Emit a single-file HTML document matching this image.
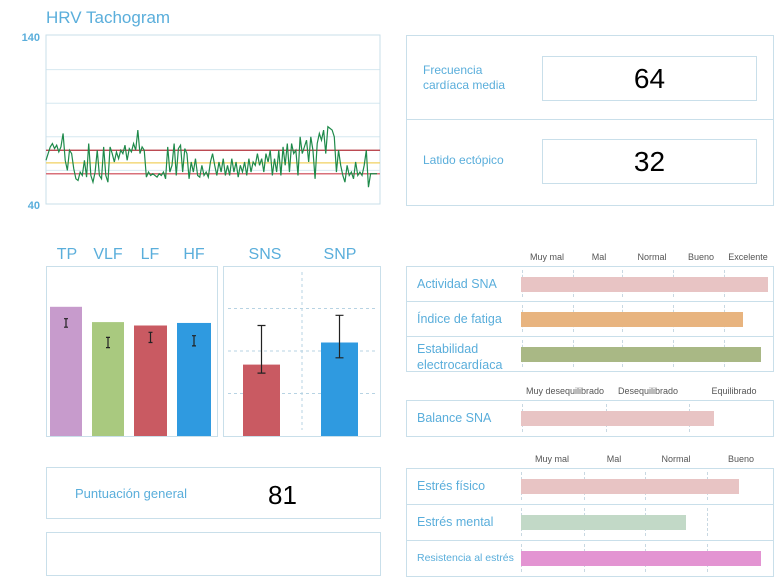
<!DOCTYPE html>
<html><head><meta charset="utf-8">
<style>
body{margin:0;width:784px;height:580px;background:#fff;font-family:"Liberation Sans",Arial,sans-serif;position:relative;overflow:hidden}
.a{position:absolute}
.box{position:absolute;border:1px solid #c9dfea;box-sizing:border-box}
.lbl{position:absolute;color:#5aaedb;font-size:12px}
.tk{position:absolute;color:#555;font-size:9px;text-align:center;width:100px}
</style></head><body>
<div class="lbl" style="left:46px;top:8px;font-size:17px">HRV Tachogram</div>
<svg class="a" style="left:0;top:0" width="400" height="215" id="tach"></svg>

<div class="box" style="left:406px;top:35px;width:368px;height:171px"></div>
<div class="a" style="left:406px;top:119px;width:368px;border-top:1px solid #c9dfea"></div>
<div class="lbl" style="left:423px;top:63px;line-height:15px">Frecuencia<br>cardíaca media</div>
<div class="box" style="left:542px;top:56px;width:215px;height:45px;font-size:28px;text-align:center;line-height:43px">64</div>
<div class="lbl" style="left:423px;top:153px">Latido ectópico</div>
<div class="box" style="left:542px;top:139px;width:215px;height:45px;font-size:28px;text-align:center;line-height:43px">32</div>

<svg class="a" style="left:0;top:240px" width="400" height="205" id="bars"></svg>

<div class="box" style="left:46px;top:467px;width:335px;height:52px"></div>
<div class="lbl" style="left:75px;top:486px;font-size:13px">Puntuación general</div>
<div class="a" style="left:268px;top:480px;font-size:26px">81</div>
<div class="box" style="left:46px;top:532px;width:335px;height:44px"></div>

<div id="rb"></div>
<script>
// ---- Tachogram data ----
const hrTicks=[140,40];
const hrGrid=[120,100,80,60];
const hrRefHigh=72, hrRefMid=64.5, hrRefLow=58;
const hrSeries=[66,70,74,76,73,75,71,74,82,66,60,72,70,61,55,54,59,57,66,56,76,57,53,59,72,57,55,74,57,53,74,70,65,71,67,72,70,75,66,73,71,76,72,84,70,74,72,56,59,57,58,57,56,58,57,59,55,74,59,63,76,57,73,75,59,73,70,55,65,59,67,57,56,63,57,59,56,65,70,63,57,65,59,67,57,63,57,67,59,65,56,63,59,65,57,67,59,65,63,70,63,67,59,70,65,72,57,67,59,72,57,74,63,76,59,76,70,72,57,80,70,74,78,65,80,72,55,76,82,78,84,70,86,85,84,80,59,72,63,57,53,63,57,59,55,65,57,59,57,63,72,50,58,58,58,58];
// ---- Spectrum bars ----
const specCats=['TP','VLF','LF','HF'];
const specVals=[76,67,65,66.5];
const specErrLo=[64,52,55,53];
const specErrHi=[69,58,61,59];
const anCats=['SNS','SNP'];
const anVals=[42,55];
const anErrLo=[37,46];
const anErrHi=[65,71];
// ---- Rating bars ----
const g1Cats=['Actividad SNA','Índice de fatiga','Estabilidad electrocardíaca'];
const g1Vals=[4.94,4.44,4.8];
const g1Ticks=['Muy mal','Mal','Normal','Bueno','Excelente'];
const g2Cats=['Balance SNA'];
const g2Vals=[2.31];
const g2Ticks=['Muy desequilibrado','Desequilibrado','Equilibrado'];
const g3Cats=['Estrés físico','Estrés mental','Resistencia al estrés'];
const g3Vals=[3.52,2.66,3.87];
const g3Ticks=['Muy mal','Mal','Normal','Bueno'];

const NS='http://www.w3.org/2000/svg';
function mk(p,t,a){const e=document.createElementNS(NS,t);for(const k in a)e.setAttribute(k,a[k]);p.appendChild(e);return e;}

// tachogram
(function(){
const s=document.getElementById('tach');
const x0=46,x1=380,yT=36,yB=204;
const y=v=>yT+(140-v)*(yB-yT)/100;
const x=i=>x0+i*(377-x0)/(hrSeries.length-1);
hrGrid.forEach(g=>{const l=mk(s,'line',{x1:x0,x2:x1,y1:y(g),y2:y(g),stroke:'#d6e8f0','stroke-width':1});

});
const r=mk(s,'rect',{x:x0,y:yT-1,width:x1-x0,height:yB-yT+1,fill:'none',stroke:'#c9dfea'});


[[hrRefHigh,'#b3303a'],[hrRefMid,'#f0d060'],[hrRefLow,'#d9707a']].forEach(([v,c])=>{const l=mk(s,'line',{x1:x0,x2:x1,y1:y(v),y2:y(v),stroke:c,'stroke-width':v===hrRefLow?1.6:1.2});

});
hrTicks.forEach(t=>{const e=mk(s,'text',{x:40,y:y(t)+5,'text-anchor':'end','font-size':11,'font-weight':'bold',fill:'#5aaedb','font-family':'Liberation Sans'});e.textContent=t;

});
const p=mk(s,'polyline',{points:hrSeries.map((v,i)=>x(i)+','+y(v)).join(' '),fill:'none',stroke:'#1e8a4a','stroke-width':1.2});


})();

// bars
(function(){
const s=document.getElementById('bars');
const oy=240,yB=436-oy,yT=266-oy;
const y=v=>yB-v*(yB-yT)/100;
let f=mk(s,'rect',{x:46.5,y:yT+.5,width:171,height:yB-yT,fill:'none',stroke:'#c9dfea'});


f=mk(s,'rect',{x:223.5,y:yT+.5,width:157,height:yB-yT,fill:'none',stroke:'#c9dfea'});


[25,50,75].forEach(g=>{const l=mk(s,'line',{x1:228,x2:375,y1:y(g),y2:y(g),stroke:'#b7d3e3','stroke-dasharray':'3,3'});

});
let v=mk(s,'line',{x1:302,x2:302,y1:yT+6,y2:yB-6,stroke:'#b7d3e3','stroke-dasharray':'3,3'});


const cols=['#c79bcc','#a9c97f','#c95a62','#2f9ae0'];
const sx=[50,92,134,177],sw=[32,32,33,34],cx=[67,108,150,194];
function err(xc,lo,hi,w){const e=mk(s,'path',{d:`M${xc},${y(lo)}V${y(hi)}M${xc-w},${y(lo)}h${2*w}M${xc-w},${y(hi)}h${2*w}`,stroke:'#222','stroke-width':1.2,fill:'none'});

}
function lab(t,xc){const e=mk(s,'text',{x:xc,y:19,'text-anchor':'middle','font-size':16,fill:'#5aaedb','font-family':'Liberation Sans'});e.textContent=t;

}
specCats.forEach((c,i)=>{const b=mk(s,'rect',{x:sx[i],y:y(specVals[i]),width:sw[i],height:yB-y(specVals[i]),fill:cols[i]});


err(sx[i]+sw[i]/2,specErrLo[i],specErrHi[i],2);lab(c,cx[i]);});
const ax=[243,321],ac=['#c95a62','#2f9ae0'],acx=[265,340];
anCats.forEach((c,i)=>{const b=mk(s,'rect',{x:ax[i],y:y(anVals[i]),width:37,height:yB-y(anVals[i]),fill:ac[i]});


err(ax[i]+18.5,anErrLo[i],anErrHi[i],4);lab(c,acx[i]);});
})();

// rating groups
(function(){
const root=document.getElementById('rb');
function group(cats,vals,ticks,top,rowH,labX,gridX,step,cols,name){
 const lblY=top-14;
 ticks.forEach((t,i)=>{const d=document.createElement('div');d.className='tk';d.textContent=t;
  d.style.left=(labX[i]-50)+'px';d.style.top=lblY+'px';
  
  
  root.appendChild(d);});
 const box=document.createElement('div');box.className='box';
 box.style.cssText=`left:406px;top:${top}px;width:368px;height:${rowH*cats.length+1}px`;
 
 
 root.appendChild(box);
 cats.forEach((c,i)=>{
  const ry=top+i*rowH;
  if(i>0){const ln=document.createElement('div');ln.className='a';ln.style.cssText=`left:406px;top:${ry}px;width:368px;border-top:1px solid #c9dfea`;
   
   
   root.appendChild(ln);}
  gridX.forEach(tx=>{const t=document.createElement('div');t.className='a';
   t.style.cssText=`left:${tx}px;top:${ry+4}px;height:${rowH-8}px;border-left:1px dashed #c8d8e2`;
   
   
   root.appendChild(t);});
  const b=document.createElement('div');b.className='a';
  b.style.cssText=`left:521px;top:${ry+rowH/2-7}px;height:15px;width:${vals[i]*step}px;background:${cols[i]}`;
  
  
  root.appendChild(b);
  const l=document.createElement('div');l.className='lbl';l.textContent=c;
  const two=c.length>24;
  l.style.cssText=`left:417px;top:${ry+(two?5:rowH/2-8)}px;width:${two?100:110}px;white-space:${two?'normal':'nowrap'};line-height:16px;font-size:${c.length>18&&!two?10.5:12.5}px`;
  
  
  root.appendChild(l);
 });
}
group(g1Cats,g1Vals,g1Ticks,266,35,[547,599,652,701,748],[522,573,622,673,724],50,['#e8c4c4','#e8b47f','#a9b885'],'sna-rating-panel');
group(g2Cats,g2Vals,g2Ticks,400,36,[565,648,734],[522,606,689],83.5,['#e8c4c4'],'balance-panel');
group(g3Cats,g3Vals,g3Ticks,468,36,[552,614,676,741],[521,584,645,707],62,['#e8c4c4','#c2d9c7','#e394d2'],'stress-panel');
})();
</script>
</body></html>
